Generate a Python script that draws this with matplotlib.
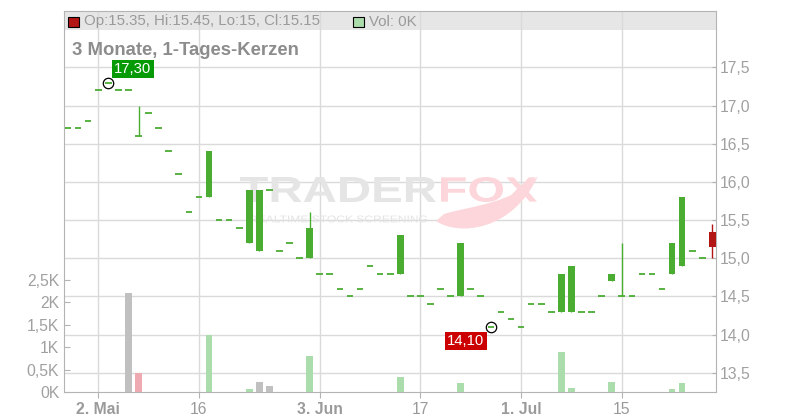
import numpy as np
import matplotlib
matplotlib.use('Agg')
import matplotlib.pyplot as plt
from matplotlib.patches import Rectangle, PathPatch
from matplotlib.textpath import TextPath
from matplotlib.font_manager import FontProperties
from matplotlib.transforms import Affine2D
from matplotlib.path import Path

plt.rcParams['font.family'] = ['Liberation Sans', 'DejaVu Sans']

# daily candles, one per trading day (index 0 = first day shown)
opens  = [16.7, 16.7, 16.8, 17.2, 17.3, 17.2, 17.2, 16.6, 16.9, 16.7,
          16.4, 16.1, 15.6, 15.8, 15.8, 15.5, 15.5, 15.4, 15.2, 15.1,
          15.9, 15.1, 15.2, 15.0, 15.0, 14.8, 14.8, 14.6, 14.5, 14.6,
          14.9, 14.8, 14.8, 14.8, 14.5, 14.5, 14.4, 14.6, 14.5, 14.5,
          14.6, 14.5, 14.1, 14.3, 14.2, 14.1, 14.4, 14.4, 14.3, 14.3,
          14.3, 14.3, 14.3, 14.5, 14.7, 14.5, 14.5, 14.8, 14.8, 14.6,
          14.8, 14.9, 15.1, 15.0, 15.35]
highs  = [16.7, 16.7, 16.8, 17.2, 17.3, 17.2, 17.2, 17.0, 16.9, 16.7,
          16.4, 16.1, 15.6, 15.8, 16.4, 15.5, 15.5, 15.4, 15.9, 15.9,
          15.9, 15.1, 15.2, 15.0, 15.6, 14.8, 14.8, 14.6, 14.5, 14.6,
          14.9, 14.8, 14.8, 15.3, 14.5, 14.5, 14.4, 14.6, 14.5, 15.2,
          14.6, 14.5, 14.1, 14.3, 14.2, 14.1, 14.4, 14.4, 14.3, 14.8,
          14.9, 14.3, 14.3, 14.5, 14.8, 15.2, 14.5, 14.8, 14.8, 14.6,
          15.2, 15.8, 15.1, 15.0, 15.45]
lows   = [16.7, 16.7, 16.8, 17.2, 17.3, 17.2, 17.2, 16.6, 16.9, 16.7,
          16.4, 16.1, 15.6, 15.8, 15.8, 15.5, 15.5, 15.4, 15.2, 15.1,
          15.9, 15.1, 15.2, 15.0, 15.0, 14.8, 14.8, 14.6, 14.5, 14.6,
          14.9, 14.8, 14.8, 14.8, 14.5, 14.5, 14.4, 14.6, 14.5, 14.5,
          14.6, 14.5, 14.1, 14.3, 14.2, 14.1, 14.4, 14.4, 14.3, 14.3,
          14.3, 14.3, 14.3, 14.5, 14.7, 14.5, 14.5, 14.8, 14.8, 14.6,
          14.8, 14.9, 15.1, 15.0, 15.0]
closes = [16.7, 16.7, 16.8, 17.2, 17.3, 17.2, 17.2, 16.6, 16.9, 16.7,
          16.4, 16.1, 15.6, 15.8, 16.4, 15.5, 15.5, 15.4, 15.9, 15.9,
          15.9, 15.1, 15.2, 15.0, 15.4, 14.8, 14.8, 14.6, 14.5, 14.6,
          14.9, 14.8, 14.8, 15.3, 14.5, 14.5, 14.4, 14.6, 14.5, 15.2,
          14.6, 14.5, 14.1, 14.3, 14.2, 14.1, 14.4, 14.4, 14.3, 14.8,
          14.9, 14.3, 14.3, 14.5, 14.8, 14.5, 14.5, 14.8, 14.8, 14.6,
          15.2, 15.8, 15.1, 15.0, 15.15]
# volume in thousands
volumes = [0, 0, 0, 0, 0, 0, 2.21, 0.42, 0, 0,
           0, 0, 0, 0, 1.28, 0, 0, 0, 0.07, 0.23,
           0.14, 0, 0, 0, 0.81, 0, 0, 0, 0, 0,
           0, 0, 0, 0.34, 0, 0, 0, 0, 0, 0.21,
           0, 0, 0, 0, 0, 0, 0, 0, 0, 0.90,
           0.10, 0, 0, 0, 0.23, 0, 0, 0, 0, 0,
           0.07, 0.21, 0, 0, 0]

tick_pos    = [3, 13, 25, 35, 45, 55]
tick_labels = ['2. Mai', '16', '3. Jun', '17', '1. Jul', '15']
tick_bold   = [True, False, True, False, True, False]

price_ticks = [13.5, 14.0, 14.5, 15.0, 15.5, 16.0, 16.5, 17.0, 17.5]
vol_ticks   = [0, 0.5, 1, 1.5, 2, 2.5]

GREEN = '#4aad32'
RED = '#b31414'
W, H = 800, 420

fig = plt.figure(figsize=(8, 4.2), dpi=100)
ax = fig.add_axes([63.5/W, 1-392.3/H, 652.5/W, 381.3/H])
axv = ax.twinx()
ax.yaxis.tick_right()
axv.yaxis.tick_left()

ax.set_xlim(-0.45, 64.36)
ax.set_ylim(13.246, 18.237)
axv.set_ylim(0, 8.49)

# grid + header band
ax.set_axisbelow(True)
ax.grid(True, color='#dadada', lw=1)
ax.axhspan(17.988, 18.3, color='#e6e6e6', lw=0, zorder=0.2)

for s in ax.spines.values():
    s.set_color('#b4b4b4')
for s in axv.spines.values():
    s.set_visible(False)

# watermark
def fit_text(s, box, color, weight='bold'):
    tp = TextPath((0, 0), s, size=1, prop=FontProperties(family='Liberation Sans', weight=weight))
    e = tp.get_extents()
    x0, y0, x1, y1 = box
    tr = (Affine2D().translate(-e.x0, -e.y0)
          .scale((x1-x0)/e.width/W, (y1-y0)/e.height/H)
          .translate(x0/W, 1-y1/H) + fig.transFigure)
    ax.add_artist(PathPatch(tp, transform=tr, fc=color, ec='none', zorder=0.8))

fit_text('TRADER', (240, 177, 436, 202), '#e5e5e5')
fit_text('FOX', (441, 177, 537, 202), '#fcd6da')
fit_text('REALTIME STOCK SCREENING', (250, 215.5, 427, 222.5), '#e3e3e3', weight='normal')
tail = [(436, 221), (458, 236), (512, 232), (538, 176),
        (512, 204), (470, 206), (444, 214), (436, 221)]
tail_codes = [Path.MOVETO, Path.CURVE4, Path.CURVE4, Path.CURVE4,
              Path.CURVE4, Path.CURVE4, Path.CURVE4, Path.CLOSEPOLY]
tail_path = Path([(x/W, 1-y/H) for x, y in tail], tail_codes)
ax.add_artist(PathPatch(tail_path, transform=fig.transFigure, fc='#fcd6da', ec='none', zorder=0.8))

# candles
for i in range(len(opens)):
    o, h, l, c = opens[i], highs[i], lows[i], closes[i]
    col = GREEN if c >= o else RED
    if h > l:
        ax.vlines(i, l, h, color=col, lw=1, zorder=3)
    if c != o:
        ax.bar(i, abs(c-o), bottom=min(o, c), width=0.66, color=col, zorder=3)
    else:
        ax.hlines(o, i-0.33, i+0.33, color=col, lw=1.3, zorder=3)

# volume bars, coloured by change against previous close
vcols = []
for i in range(len(closes)):
    prev = closes[i-1] if i > 0 else closes[i]
    if closes[i] > prev:
        vcols.append('#abdcab')
    elif closes[i] < prev:
        vcols.append('#eea9b1')
    else:
        vcols.append('#c0c0c0')
axv.bar(range(len(volumes)), volumes, width=0.66, color=vcols, lw=0, zorder=2)

# max / min markers
imax = int(np.argmax(highs))
imin = int(np.argmin(lows))
ax.plot(imax, highs[imax], 'o', mfc='none', mec='black', ms=7.5, mew=0.9, zorder=5)
ax.plot(imin, lows[imin], 'o', mfc='none', mec='black', ms=7.5, mew=0.9, zorder=5)
ax.annotate(f"{highs[imax]:.2f}".replace('.', ','), xy=(imax, highs[imax]),
            xytext=(24.5, 13.5), textcoords='offset pixels', ha='center', va='center',
            color='white', fontsize=10.7,
            bbox=dict(boxstyle='square,pad=0.15', fc='#069a06', ec='none'), zorder=6)
ax.annotate(f"{lows[imin]:.2f}".replace('.', ','), xy=(imin, lows[imin]),
            xytext=(-25, -14), textcoords='offset pixels', ha='center', va='center',
            color='white', fontsize=10.7,
            bbox=dict(boxstyle='square,pad=0.15', fc='#cc0000', ec='none'), zorder=6)

# axes ticks
ax.set_xticks(tick_pos)
ax.set_xticklabels(tick_labels)
for lab, b in zip(ax.get_xticklabels(), tick_bold):
    if b:
        lab.set_fontweight('bold')
ax.tick_params(axis='x', direction='out', length=4, color='#b4b4b4',
               labelcolor='#9a9a9a', labelsize=11.3, pad=3)

ax.set_yticks(price_ticks)
ax.set_yticklabels([f"{v:.1f}".replace('.', ',') for v in price_ticks])
ax.tick_params(axis='y', direction='in', length=3, color='#b4b4b4',
               labelcolor='#a0a0a0', labelsize=11.3, pad=3)

axv.set_yticks(vol_ticks)
axv.set_yticklabels([f"{v:g}".replace('.', ',') + 'K' for v in vol_ticks])
axv.tick_params(axis='y', direction='in', length=4, color='#b4b4b4',
                labelcolor='#a0a0a0', labelsize=11.3, pad=3)

# header legend and title
o, h, l, c = opens[-1], highs[-1], lows[-1], closes[-1]
fig.add_artist(Rectangle((68.3/W, 1-26.7/H), 10.7/W, 10/H, transform=fig.transFigure,
                         fc=RED, ec='black', lw=0.8))
fig.text(84/W, 1-21.5/H, f"Op:{o:g}, Hi:{h:g}, Lo:{l:g}, Cl:{c:g}",
         color='#9a9a9a', fontsize=10.8, va='center')
fig.add_artist(Rectangle((353.3/W, 1-26.7/H), 10.7/W, 10/H, transform=fig.transFigure,
                         fc='#abdcab', ec='black', lw=0.8))
fig.text(368.7/W, 1-21.5/H, f"Vol: {volumes[-1]:g}K",
         color='#9a9a9a', fontsize=10.8, va='center')
fig.text(72/W, 1-55/H, '3 Monate, 1-Tages-Kerzen', color='#8c8c8c',
         fontsize=13.3, fontweight='bold', va='baseline')

fig.savefig('out.png', dpi=100)
